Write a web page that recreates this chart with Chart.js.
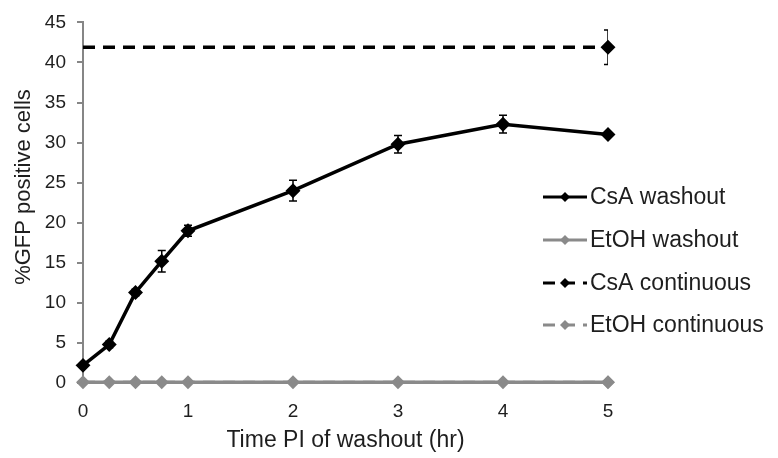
<!DOCTYPE html>
<html>
<head>
<meta charset="utf-8">
<script src="https://cdn.jsdelivr.net/npm/chart.js@4/dist/chart.umd.min.js"></script>
<style>
  html, body { margin: 0; padding: 0; background: #fff; }
  #wrap { width: 778px; height: 458px; }
</style>
</head>
<body>
<div id="wrap"><canvas id="gfpChart" width="778" height="458"></canvas></div>
<script>
// time points (hr) after washout
const timeWashout = [0, 0.25, 0.5, 0.75, 1, 2, 3, 4, 5];
const timeContinuous = [0, 5];

// %GFP positive cells
const csaWashout = [2.2, 4.8, 11.3, 15.2, 19.0, 24.0, 29.8, 32.3, 31.0];
const csaWashoutErr = [0.2, 0.4, 0.4, 1.35, 0.7, 1.3, 1.1, 1.1, 0.3];
const etohWashout = [0.1, 0.1, 0.1, 0.1, 0.1, 0.1, 0.1, 0.1, 0.1];
const etohWashoutErr = [0, 0, 0, 0, 0, 0, 0, 0, 0];
const csaContinuous = [41.9, 41.9];
const csaContinuousErr = [0, 2.15];
const etohContinuous = [0.1, 0.1];
const etohContinuousErr = [0, 0];

const seriesNames = ['CsA washout', 'EtOH washout', 'CsA continuous', 'EtOH continuous'];
const yTicks = [0, 5, 10, 15, 20, 25, 30, 35, 40, 45];
const xTicks = [0, 1, 2, 3, 4, 5];
const yTitle = '%GFP positive cells';
const xTitle = 'Time PI of washout (hr)';

const BLACK = '#000000';
const GREY = '#8a8a8a';
const AXIS = '#868686';
const TEXT = '#1e1e1e';
const FONT = '"Liberation Sans", Arial, sans-serif';

function toXY(xs, ys) {
    return xs.map((x, i) => ({ x: x, y: ys[i] }));
}

// error bars, clipped to the plot area like the original
const errorBars = {
    id: 'errorBars',
    afterDatasetsDraw(chart) {
        const { ctx, chartArea, scales } = chart;
        ctx.save();
        ctx.beginPath();
        ctx.rect(chartArea.left, chartArea.top - 30, chartArea.right - chartArea.left, chartArea.bottom - chartArea.top + 30);
        ctx.clip();
        chart.data.datasets.forEach((ds, i) => {
            if (!ds.errors) return;
            const meta = chart.getDatasetMeta(i);
            meta.data.forEach((pt, j) => {
                const err = ds.errors[j];
                if (!err) return;
                const v = ds.data[j].y;
                const yTop = scales.y.getPixelForValue(v + err);
                const yBot = scales.y.getPixelForValue(v - err);
                ctx.strokeStyle = ds.borderColor;
                ctx.lineWidth = 1.5;
                ctx.beginPath();
                ctx.moveTo(pt.x, yTop);
                ctx.lineTo(pt.x, yBot);
                ctx.moveTo(pt.x - 4, yTop);
                ctx.lineTo(pt.x + 4, yTop);
                ctx.moveTo(pt.x - 4, yBot);
                ctx.lineTo(pt.x + 4, yBot);
                ctx.stroke();
            });
        });
        ctx.restore();
    }
};

// y title sits a bit above the middle of the axis in the original
const yAxisTitle = {
    id: 'yAxisTitle',
    afterDraw(chart) {
        const ctx = chart.ctx;
        ctx.save();
        ctx.translate(24, 187);
        ctx.rotate(-Math.PI / 2);
        ctx.fillStyle = TEXT;
        ctx.font = '22px ' + FONT;
        ctx.textAlign = 'center';
        ctx.textBaseline = 'middle';
        ctx.fillText(yTitle, 0, 0);
        ctx.restore();
    }
};

// Excel-style legend sitting over the right side of the plot
const sideLegend = {
    id: 'sideLegend',
    afterDraw(chart) {
        const ctx = chart.ctx;
        const x0 = 543, x1 = 587, tx = 590;
        const rowY = [197, 240, 283, 325];
        ctx.save();
        chart.data.datasets.forEach((ds, i) => {
            const y = rowY[i];
            ctx.strokeStyle = ds.borderColor;
            ctx.lineWidth = 3;
            ctx.setLineDash(ds.borderDash || []);
            ctx.beginPath();
            ctx.moveTo(x0, y);
            ctx.lineTo(x1, y);
            ctx.stroke();
            ctx.setLineDash([]);
            const c = (x0 + x1) / 2, r = 5;
            ctx.fillStyle = ds.borderColor;
            ctx.beginPath();
            ctx.moveTo(c, y - r);
            ctx.lineTo(c + r, y);
            ctx.lineTo(c, y + r);
            ctx.lineTo(c - r, y);
            ctx.closePath();
            ctx.fill();
            ctx.fillStyle = TEXT;
            ctx.font = '23px ' + FONT;
            ctx.textBaseline = 'middle';
            ctx.textAlign = 'left';
            ctx.fillText(ds.label, tx, y + 1);
        });
        ctx.restore();
    }
};

const ctx = document.getElementById('gfpChart').getContext('2d');

const chart = new Chart(ctx, {
    type: 'line',
    data: {
        datasets: [{
            label: seriesNames[0],
            data: toXY(timeWashout, csaWashout),
            errors: csaWashoutErr,
            borderColor: BLACK,
            backgroundColor: BLACK,
            borderWidth: 3.5,
            pointStyle: 'rectRot',
            pointRadius: 5,
            order: 1
        }, {
            label: seriesNames[1],
            data: toXY(timeWashout, etohWashout),
            errors: etohWashoutErr,
            borderColor: GREY,
            backgroundColor: GREY,
            borderWidth: 3.5,
            pointStyle: 'rectRot',
            pointRadius: 4.5,
            order: 2
        }, {
            label: seriesNames[2],
            data: toXY(timeContinuous, csaContinuous),
            errors: csaContinuousErr,
            borderColor: BLACK,
            backgroundColor: BLACK,
            borderWidth: 3.5,
            borderDash: [12, 8],
            pointStyle: 'rectRot',
            pointRadius: c => (c.dataIndex === 0 ? 0 : 5),
            order: 1
        }, {
            label: seriesNames[3],
            data: toXY(timeContinuous, etohContinuous),
            errors: etohContinuousErr,
            borderColor: GREY,
            backgroundColor: GREY,
            borderWidth: 3,
            borderDash: [12, 8],
            pointStyle: 'rectRot',
            pointRadius: c => (c.dataIndex === 0 ? 0 : 4.5),
            order: 3
        }]
    },
    options: {
        responsive: false,
        animation: false,
        clip: false,
        layout: { padding: { left: 0, top: 20, right: 170, bottom: 0 } },
        plugins: {
            legend: { display: false },
            tooltip: { enabled: false }
        },
        scales: {
            x: {
                type: 'linear',
                min: 0,
                max: 5,
                afterFit: s => { s.height = 75; },
                afterBuildTicks: s => { s.ticks = xTicks.map(v => ({ value: v })); },
                grid: { display: false },
                border: { display: true, color: AXIS, width: 2 },
                ticks: {
                    padding: 9,
                    color: TEXT,
                    font: { family: FONT, size: 19 }
                },
                title: {
                    display: true,
                    text: xTitle,
                    color: TEXT,
                    padding: { top: 0, bottom: 4 },
                    font: { family: FONT, size: 23 }
                }
            },
            y: {
                type: 'linear',
                min: 0,
                max: 45,
                afterFit: s => { s.width = 83; },
                afterBuildTicks: s => { s.ticks = yTicks.map(v => ({ value: v })); },
                grid: {
                    display: true,
                    drawOnChartArea: false,
                    drawTicks: true,
                    tickLength: 6,
                    color: AXIS,
                    lineWidth: 2
                },
                border: { display: true, color: AXIS, width: 2 },
                ticks: {
                    padding: 11,
                    color: TEXT,
                    font: { family: FONT, size: 19 }
                },
                title: { display: false }
            }
        }
    },
    plugins: [errorBars, yAxisTitle, sideLegend]
});
</script>
</body>
</html>
